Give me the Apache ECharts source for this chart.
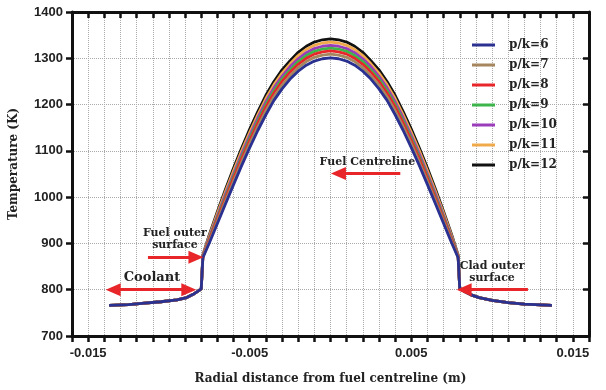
<!DOCTYPE html>
<html>
<head>
<meta charset="utf-8">
<script src="https://cdn.jsdelivr.net/npm/echarts@6/dist/echarts.min.js"></script>
<style>
html, body { margin: 0; padding: 0; background: #fff; }
#chart { width: 606px; height: 390px; }
</style>
</head>
<body>
<div id="chart"></div>
<script>
// radial positions (m) in the fuel, shared by every curve
var fuelX = [-0.0079, -0.0075, -0.007, -0.0065, -0.006, -0.0055, -0.005, -0.0045, -0.004, -0.0035, -0.003,
    -0.0025, -0.002, -0.0015, -0.001, -0.0005, 0, 0.0005, 0.001, 0.0015, 0.002, 0.0025, 0.003, 0.0035,
    0.004, 0.0045, 0.005, 0.0055, 0.006, 0.0065, 0.007, 0.0075, 0.0079];
// cladding + coolant part, the curves overlap here
var coolLeftX = [-0.0137, -0.0125, -0.0115, -0.0105, -0.0095, -0.0089, -0.0085, -0.0082, -0.0080];
var coolLeftT = [766, 768, 771, 774, 778, 783, 790, 797, 802];
var coolRightX = [0.0080, 0.0083, 0.0087, 0.0092, 0.0100, 0.0110, 0.0120, 0.0137];
var coolRightT = [803, 796, 789, 783, 777, 772, 769, 766];

var names = ['p/k=6', 'p/k=7', 'p/k=8', 'p/k=9', 'p/k=10', 'p/k=11', 'p/k=12'];
var colors = ['#2b3190', '#a5865e', '#e8262a', '#3db54a', '#9b3cba', '#f0aa4c', '#111111'];

var t6 = [869, 901, 943, 985, 1027, 1068, 1107, 1144, 1178, 1209, 1234, 1255, 1272, 1285, 1294, 1299, 1301,
    1299, 1294, 1285, 1272, 1255, 1234, 1209, 1178, 1144, 1107, 1068, 1027, 985, 943, 901, 869];
var t7 = [870, 904, 948, 991, 1034, 1075, 1115, 1152, 1187, 1217, 1242, 1262, 1280, 1293, 1302, 1307, 1309,
    1307, 1302, 1293, 1280, 1262, 1242, 1217, 1187, 1152, 1115, 1075, 1034, 991, 948, 904, 870];
var t8 = [871, 908, 953, 997, 1041, 1083, 1122, 1160, 1195, 1225, 1250, 1270, 1287, 1300, 1309, 1314, 1316,
    1314, 1309, 1300, 1287, 1270, 1250, 1225, 1195, 1160, 1122, 1083, 1041, 997, 953, 908, 871];
var t9 = [872, 910, 956, 1001, 1045, 1087, 1127, 1165, 1200, 1230, 1255, 1275, 1293, 1306, 1315, 1320, 1322,
    1320, 1315, 1306, 1293, 1275, 1255, 1230, 1200, 1165, 1127, 1087, 1045, 1001, 956, 910, 872];
var t10 = [873, 913, 960, 1006, 1050, 1093, 1133, 1171, 1206, 1236, 1261, 1282, 1299, 1312, 1321, 1326, 1328,
    1326, 1321, 1312, 1299, 1282, 1261, 1236, 1206, 1171, 1133, 1093, 1050, 1006, 960, 913, 873];
var t11 = [874, 916, 965, 1012, 1057, 1100, 1140, 1178, 1213, 1243, 1268, 1288, 1306, 1319, 1328, 1333, 1335,
    1333, 1328, 1319, 1306, 1288, 1268, 1243, 1213, 1178, 1140, 1100, 1057, 1012, 965, 916, 874];
var t12 = [875, 919, 969, 1017, 1063, 1106, 1147, 1185, 1220, 1250, 1275, 1295, 1313, 1326, 1335, 1340, 1342,
    1340, 1335, 1326, 1313, 1295, 1275, 1250, 1220, 1185, 1147, 1106, 1063, 1017, 969, 919, 875];
var fuelT = [t6, t7, t8, t9, t10, t11, t12];

// annotations: text and arrows in data coordinates
var notes = [
    { text: 'Fuel outer\nsurface', x: -0.00963, y: 909, size: 11 },
    { text: 'Coolant', x: -0.01105, y: 827, size: 13 },
    { text: 'Fuel Centreline', x: 0.00228, y: 1075, size: 11 },
    { text: 'Clad outer\nsurface', x: 0.0100, y: 839, size: 11 }
];
var arrows = [
    { from: [-0.01345, 800], to: [-0.00877, 800], both: true },
    { from: [-0.0113, 870], to: [-0.00833, 870] },
    { from: [0.00432, 1051], to: [0.00049, 1051] },
    { from: [0.01222, 800], to: [0.00827, 800] }
];

var serifFont = '"DejaVu Serif", "Liberation Serif", serif';
var sansFont = '"Liberation Sans", Arial, sans-serif';

function buildData(i) {
    var d = [];
    coolLeftX.forEach(function (x, j) { d.push([x, coolLeftT[j]]); });
    fuelX.forEach(function (x, j) { d.push([x, fuelT[i][j]]); });
    coolRightX.forEach(function (x, j) { d.push([x, coolRightT[j]]); });
    return d;
}

var series = [];
// p/k=12 drawn first so the blue curve ends up on top
for (var i = names.length - 1; i >= 0; i--) {
    series.push({
        name: names[i],
        type: 'line',
        data: buildData(i),
        symbol: 'none',
        lineStyle: { color: colors[i], width: 2.8 },
        itemStyle: { color: colors[i] }
    });
}

series.push({
    name: 'notes',
    type: 'line',
    data: [],
    silent: true,
    markLine: {
        silent: true,
        animation: false,
        label: { show: false },
        lineStyle: { color: '#e8262a', width: 3, type: 'solid' },
        symbolSize: [13, 15],
        data: arrows.map(function (a) {
            return [
                { coord: a.from, symbol: a.both ? 'triangle' : 'none' },
                { coord: a.to, symbol: 'triangle' }
            ];
        })
    },
    markPoint: {
        silent: true,
        symbol: 'circle',
        symbolSize: 0,
        data: notes.map(function (n) {
            return {
                coord: [n.x, n.y],
                label: {
                    show: true,
                    position: 'inside',
                    formatter: n.text,
                    fontFamily: serifFont,
                    fontWeight: 'bold',
                    fontSize: n.size,
                    lineHeight: 12,
                    color: '#222'
                }
            };
        })
    }
});

var chart = echarts.init(document.getElementById('chart'));
var xLabels = [-15, -5, 5, 15];

chart.setOption({
    animation: false,
    backgroundColor: '#fff',
    grid: { left: 71, right: 17, top: 12, bottom: 54 },
    legend: {
        data: names,
        orient: 'vertical',
        left: 467,
        top: 34,
        icon: 'rect',
        itemWidth: 23,
        itemHeight: 3,
        itemGap: 8,
        textStyle: {
            fontFamily: serifFont,
            fontWeight: 'bold',
            fontSize: 12,
            color: '#222',
            padding: [0, 0, 0, 9]
        }
    },
    xAxis: [{
        type: 'value',
        min: -0.016,
        max: 0.016,
        interval: 0.001,
        name: 'Radial distance from fuel centreline (m)',
        nameLocation: 'middle',
        nameGap: 37,
        nameTextStyle: { fontFamily: serifFont, fontWeight: 'bold', fontSize: 12, color: '#222' },
        axisLine: { onZero: false, lineStyle: { color: '#111', width: 3 } },
        axisTick: { length: 6, lineStyle: { color: '#111', width: 2.5 } },
        axisLabel: {
            margin: 11,
            fontFamily: sansFont,
            fontWeight: 'bold',
            fontSize: 13,
            color: '#222',
            formatter: function (v) {
                var k = Math.round(v * 1000);
                return xLabels.indexOf(k) >= 0 ? v.toFixed(3) : '';
            }
        },
        splitLine: { show: true, lineStyle: { color: '#aaa', type: 'dotted', width: 1 } }
    }, {
        type: 'value',
        position: 'top',
        min: -0.016,
        max: 0.016,
        interval: 0.001,
        axisLine: { onZero: false, lineStyle: { color: '#111', width: 3 } },
        axisTick: { inside: true, length: 6, lineStyle: { color: '#111', width: 2.5 } },
        axisLabel: { show: false },
        splitLine: { show: false }
    }],
    yAxis: [{
        type: 'value',
        min: 700,
        max: 1400,
        interval: 100,
        name: 'Temperature (K)',
        nameLocation: 'middle',
        nameGap: 52,
        nameTextStyle: { fontFamily: serifFont, fontWeight: 'bold', fontSize: 12, color: '#222', padding: [0, 0, 0, 20] },
        axisLine: { show: true, onZero: false, lineStyle: { color: '#111', width: 3 } },
        axisTick: { show: true, length: 6, lineStyle: { color: '#111', width: 2.5 } },
        axisLabel: {
            margin: 9, fontFamily: sansFont, fontWeight: 'bold', fontSize: 13, color: '#222',
            formatter: function (v) { return String(v); }
        },
        splitLine: { show: true, lineStyle: { color: '#aaa', type: 'dotted', width: 1 } }
    }, {
        type: 'value',
        position: 'right',
        min: 700,
        max: 1400,
        interval: 100,
        axisLine: { show: true, onZero: false, lineStyle: { color: '#111', width: 3 } },
        axisTick: { show: true, inside: true, length: 6, lineStyle: { color: '#111', width: 2.5 } },
        axisLabel: { show: false },
        splitLine: { show: false }
    }],
    series: series
});
</script>
</body>
</html>
